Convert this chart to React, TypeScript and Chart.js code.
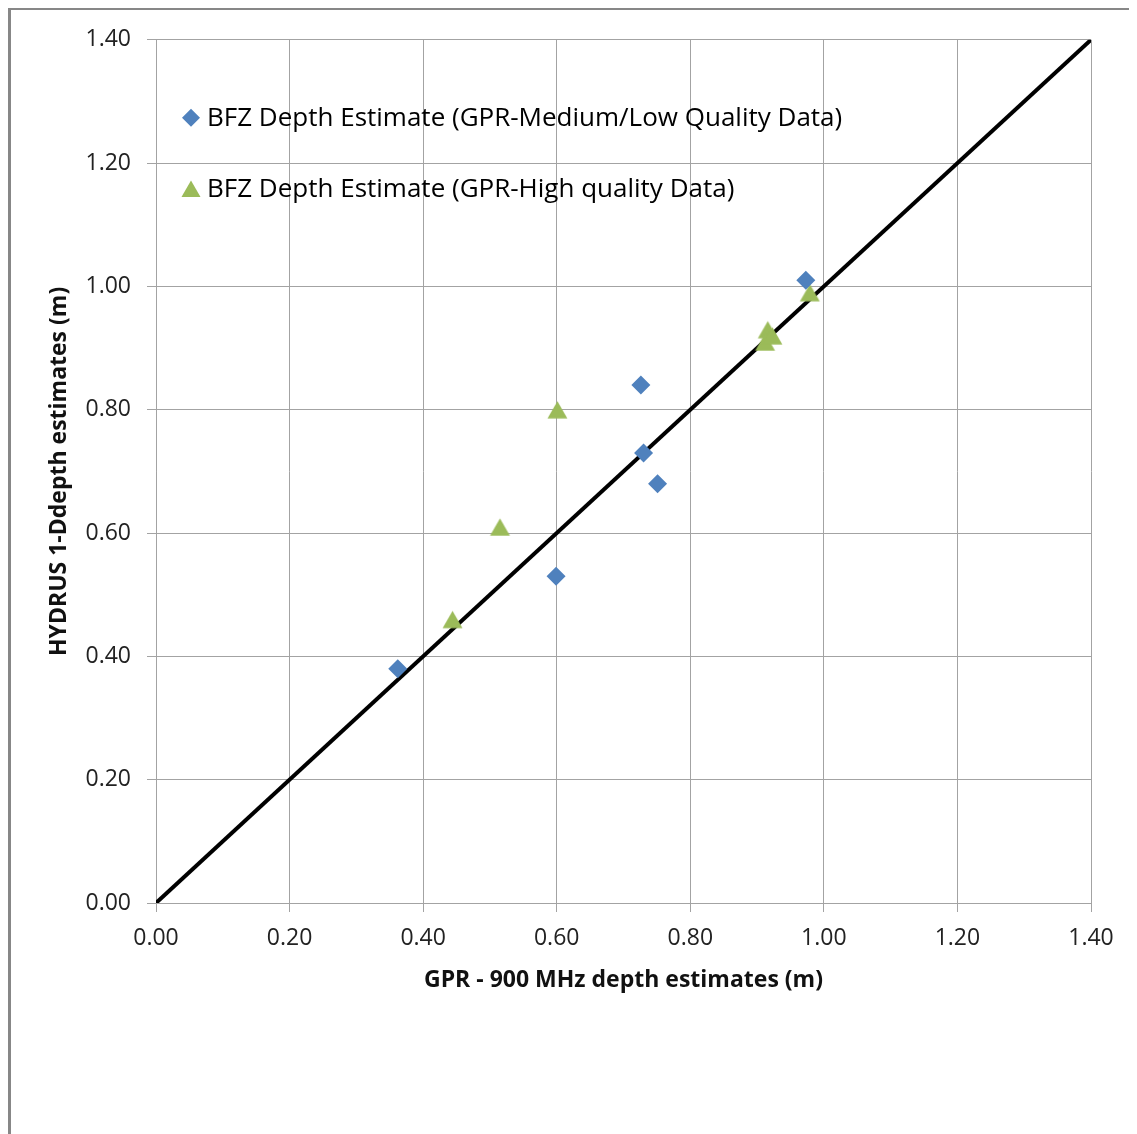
import React, { useEffect, useRef } from "react";
import { Chart, registerables } from "chart.js";

Chart.register(...registerables);

// ---- Data ----
const mediumLowLabel = "BFZ Depth Estimate (GPR-Medium/Low Quality Data)";
const mediumLowX = [0.362, 0.726, 0.73, 0.751, 0.599, 0.973];
const mediumLowY = [0.38, 0.84, 0.73, 0.68, 0.53, 1.01];

const highLabel = "BFZ Depth Estimate (GPR-High quality Data)";
const highX = [0.601, 0.515, 0.444, 0.979, 0.916, 0.912, 0.923];
const highY = [0.8, 0.61, 0.46, 0.99, 0.93, 0.91, 0.92];

const lineX = [0, 1.4];
const lineY = [0, 1.4];

const axisMin = 0;
const axisMax = 1.4;
const axisStep = 0.2;

const xTitle = "GPR - 900 MHz depth estimates (m)";
const yTitle = "HYDRUS 1-Ddepth estimates (m)";

const BLUE = "#4F81BD";
const GREEN = "#9BBB59";
const GRID = "#a3a3a3";
const FONT = "'Open Sans', 'DejaVu Sans', sans-serif";

function makeTriangle(color: string, r: number): HTMLCanvasElement {
  const w = Math.ceil(r * 1.75) + 2;
  const h = Math.ceil(r * 1.5) + 2;
  const c = document.createElement("canvas");
  c.width = w;
  c.height = h;
  const ctx = c.getContext("2d")!;
  const half = (r * Math.sqrt(3)) / 2;
  const th = r * 1.5;
  const cx = w / 2;
  const cy = h / 2;
  ctx.fillStyle = color;
  ctx.beginPath();
  ctx.moveTo(cx, cy - th / 2);
  ctx.lineTo(cx + half, cy + th / 2);
  ctx.lineTo(cx - half, cy + th / 2);
  ctx.closePath();
  ctx.fill();
  return c;
}

const legendPlugin = {
  id: "insideLegend",
  afterDatasetsDraw(chart: any) {
    const { ctx, chartArea } = chart;
    const items = [
      { text: mediumLowLabel, type: "diamond", color: BLUE, dy: 78 },
      { text: highLabel, type: "triangle", color: GREEN, dy: 149 },
    ];
    ctx.save();
    ctx.font = `26px ${FONT}`;
    ctx.textBaseline = "middle";
    ctx.textAlign = "left";
    for (const it of items) {
      const mx = chartArea.left + 35;
      const my = chartArea.top + it.dy;
      ctx.fillStyle = it.color;
      ctx.beginPath();
      if (it.type === "diamond") {
        const r = 9;
        ctx.moveTo(mx, my - r);
        ctx.lineTo(mx + r, my);
        ctx.lineTo(mx, my + r);
        ctx.lineTo(mx - r, my);
      } else {
        const r = 11;
        const half = (r * Math.sqrt(3)) / 2;
        const th = r * 1.5;
        ctx.moveTo(mx, my - th / 2);
        ctx.lineTo(mx + half, my + th / 2);
        ctx.lineTo(mx - half, my + th / 2);
      }
      ctx.closePath();
      ctx.fill();
      ctx.fillStyle = "#000";
      ctx.fillText(it.text, mx + 16, my + 1);
    }
    ctx.restore();
  },
};

export default function App() {
  const ref = useRef<HTMLCanvasElement>(null);

  useEffect(() => {
    if (!ref.current) return;
    const tri = makeTriangle(GREEN, 11.5);
    const chart = new Chart(ref.current, {
      type: "scatter",
      data: {
        datasets: [
          {
            label: mediumLowLabel,
            data: mediumLowX.map((x, i) => ({ x, y: mediumLowY[i] })),
            backgroundColor: BLUE,
            borderColor: BLUE,
            borderWidth: 0,
            pointStyle: "rectRot",
            pointRadius: 9.5,
            order: 1,
          },
          {
            label: highLabel,
            data: highX.map((x, i) => ({ x, y: highY[i] })),
            backgroundColor: GREEN,
            borderColor: GREEN,
            pointStyle: tri as any,
            pointRadius: 11.5,
            order: 2,
          },
          {
            type: "line",
            label: "1:1",
            data: lineX.map((x, i) => ({ x, y: lineY[i] })),
            borderColor: "#000",
            borderWidth: 4,
            pointRadius: 0,
            fill: false,
            order: 10,
          } as any,
        ],
      },
      options: {
        responsive: false,
        animation: false,
        devicePixelRatio: 1,
        layout: { padding: { left: 0, top: 27, right: 46, bottom: 131 } },
        plugins: {
          legend: { display: false },
          tooltip: { enabled: false },
        },
        scales: {
          x: {
            type: "linear",
            min: axisMin,
            max: axisMax,
            afterFit: (s: any) => {
              s.height = 100;
            },
            ticks: {
              stepSize: axisStep,
              padding: 13,
              color: "#222",
              font: { family: FONT, size: 23 },
              callback: (v: any) => Number(v).toFixed(2),
              maxRotation: 0,
            },
            grid: { color: GRID, tickColor: GRID, tickLength: 9, lineWidth: 1 },
            border: { color: GRID, width: 1 },
            title: {
              display: true,
              text: xTitle,
              color: "#111",
              font: { family: FONT, size: 23, weight: "bold" },
              padding: { top: 0, bottom: 9 },
            },
          },
          y: {
            type: "linear",
            min: axisMin,
            max: axisMax,
            afterFit: (s: any) => {
              s.width = 145;
            },
            ticks: {
              stepSize: axisStep,
              padding: 16,
              color: "#222",
              font: { family: FONT, size: 23 },
              callback: (v: any) => Number(v).toFixed(2),
            },
            grid: { color: GRID, tickColor: GRID, tickLength: 9, lineWidth: 1 },
            border: { color: GRID, width: 1 },
            title: {
              display: true,
              text: yTitle,
              color: "#111",
              font: { family: FONT, size: 23, weight: "bold" },
              padding: { top: 35, bottom: 0 },
            },
          },
        },
      },
      plugins: [legendPlugin],
    });
    return () => chart.destroy();
  }, []);

  return (
    <div
      style={{
        width: 1129,
        height: 1126,
        borderLeft: "3px solid #878787",
        borderTop: "2px solid #878787",
        boxSizing: "border-box",
        background: "#fff",
      }}
    >
      <canvas ref={ref} width={1126} height={1124} style={{ display: "block" }} />
    </div>
  );
}
